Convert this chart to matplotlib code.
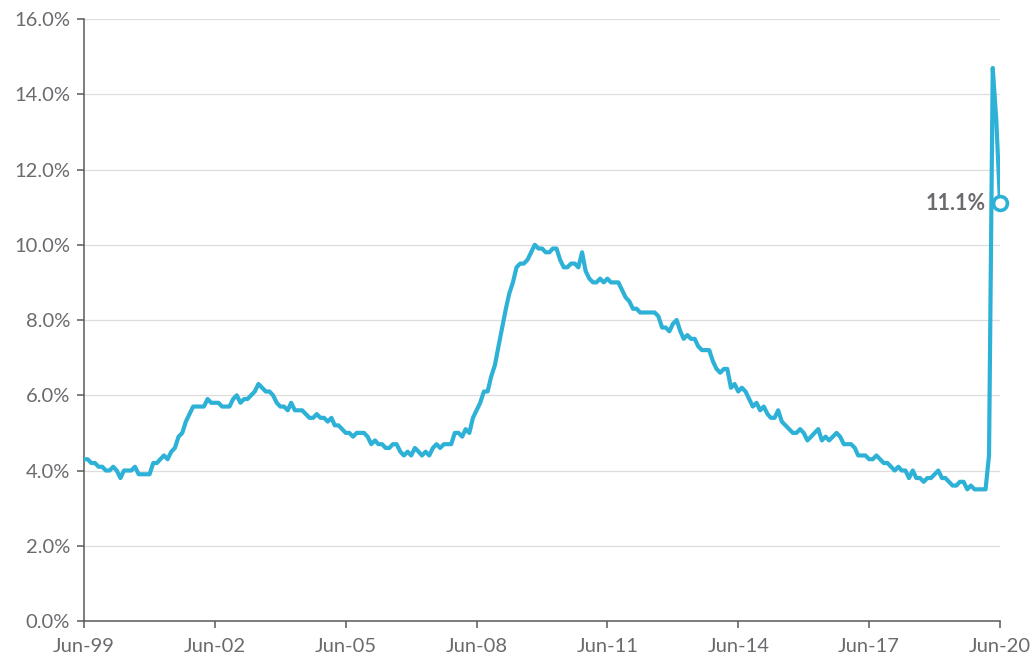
import matplotlib.pyplot as plt
import matplotlib.dates as mdates
import numpy as np
import pandas as pd


# 月度失业率（%），1999年6月 - 2020年6月
rate_1999 = [4.3, 4.3, 4.2, 4.2, 4.1, 4.1, 4.0]
rate_2000 = [4.0, 4.1, 4.0, 3.8, 4.0, 4.0, 4.0, 4.1, 3.9, 3.9, 3.9, 3.9]
rate_2001 = [4.2, 4.2, 4.3, 4.4, 4.3, 4.5, 4.6, 4.9, 5.0, 5.3, 5.5, 5.7]
rate_2002 = [5.7, 5.7, 5.7, 5.9, 5.8, 5.8, 5.8, 5.7, 5.7, 5.7, 5.9, 6.0]
rate_2003 = [5.8, 5.9, 5.9, 6.0, 6.1, 6.3, 6.2, 6.1, 6.1, 6.0, 5.8, 5.7]
rate_2004 = [5.7, 5.6, 5.8, 5.6, 5.6, 5.6, 5.5, 5.4, 5.4, 5.5, 5.4, 5.4]
rate_2005 = [5.3, 5.4, 5.2, 5.2, 5.1, 5.0, 5.0, 4.9, 5.0, 5.0, 5.0, 4.9]
rate_2006 = [4.7, 4.8, 4.7, 4.7, 4.6, 4.6, 4.7, 4.7, 4.5, 4.4, 4.5, 4.4]
rate_2007 = [4.6, 4.5, 4.4, 4.5, 4.4, 4.6, 4.7, 4.6, 4.7, 4.7, 4.7, 5.0]
rate_2008 = [5.0, 4.9, 5.1, 5.0, 5.4, 5.6, 5.8, 6.1, 6.1, 6.5, 6.8, 7.3]
rate_2009 = [7.8, 8.3, 8.7, 9.0, 9.4, 9.5, 9.5, 9.6, 9.8, 10.0, 9.9, 9.9]
rate_2010 = [9.8, 9.8, 9.9, 9.9, 9.6, 9.4, 9.4, 9.5, 9.5, 9.4, 9.8, 9.3]
rate_2011 = [9.1, 9.0, 9.0, 9.1, 9.0, 9.1, 9.0, 9.0, 9.0, 8.8, 8.6, 8.5]
rate_2012 = [8.3, 8.3, 8.2, 8.2, 8.2, 8.2, 8.2, 8.1, 7.8, 7.8, 7.7, 7.9]
rate_2013 = [8.0, 7.7, 7.5, 7.6, 7.5, 7.5, 7.3, 7.2, 7.2, 7.2, 6.9, 6.7]
rate_2014 = [6.6, 6.7, 6.7, 6.2, 6.3, 6.1, 6.2, 6.1, 5.9, 5.7, 5.8, 5.6]
rate_2015 = [5.7, 5.5, 5.4, 5.4, 5.6, 5.3, 5.2, 5.1, 5.0, 5.0, 5.1, 5.0]
rate_2016 = [4.8, 4.9, 5.0, 5.1, 4.8, 4.9, 4.8, 4.9, 5.0, 4.9, 4.7, 4.7]
rate_2017 = [4.7, 4.6, 4.4, 4.4, 4.4, 4.3, 4.3, 4.4, 4.3, 4.2, 4.2, 4.1]
rate_2018 = [4.0, 4.1, 4.0, 4.0, 3.8, 4.0, 3.8, 3.8, 3.7, 3.8, 3.8, 3.9]
rate_2019 = [4.0, 3.8, 3.8, 3.7, 3.6, 3.6, 3.7, 3.7, 3.5, 3.6, 3.5, 3.5]
rate_2020 = [3.5, 3.5, 4.4, 14.7, 13.3, 11.1]

rates = (rate_1999 + rate_2000 + rate_2001 + rate_2002 + rate_2003 + rate_2004
         + rate_2005 + rate_2006 + rate_2007 + rate_2008 + rate_2009 + rate_2010
         + rate_2011 + rate_2012 + rate_2013 + rate_2014 + rate_2015 + rate_2016
         + rate_2017 + rate_2018 + rate_2019 + rate_2020)
dates = pd.date_range("1999-06-01", periods=len(rates), freq="MS")

tick_dates = pd.date_range("1999-06-01", "2020-06-01", freq="36MS")
y_ticks = [0, 2, 4, 6, 8, 10, 12, 14, 16]
last_label = "11.1%"

LINE_COLOR = "#2DB1D6"
TEXT_COLOR = "#6B6B6F"
AXIS_COLOR = "#5A5A5A"

plt.rcParams["font.family"] = ["Lato", "DejaVu Sans"]

fig = plt.figure(figsize=(10.32, 6.58), dpi=100)
ax = fig.add_axes([0.0814, 0.0562, 0.8876, 0.9149])

ax.plot(dates, rates, color=LINE_COLOR, linewidth=3.0, solid_joinstyle="round",
        zorder=3)
ax.plot(dates[-1], rates[-1], marker="o", markersize=10, markerfacecolor="white",
        markeredgecolor=LINE_COLOR, markeredgewidth=2.6, zorder=4, clip_on=False)
ax.annotate(last_label, (dates[-1], rates[-1]), xytext=(-10, 0),
            textcoords="offset points", ha="right", va="center",
            fontsize=15.5, fontweight="bold", color=TEXT_COLOR)

ax.set_xlim(dates[0], dates[-1])
ax.set_ylim(0, 16)
ax.set_yticks(y_ticks)
ax.set_yticklabels([f"{v:.1f}%" for v in y_ticks])
ax.set_xticks(tick_dates)
ax.xaxis.set_major_formatter(mdates.DateFormatter("%b-%y"))

ax.grid(axis="y", color="#DDDDDD", linewidth=0.9)
ax.set_axisbelow(True)
for side in ["top", "right"]:
    ax.spines[side].set_visible(False)
for side in ["left", "bottom"]:
    ax.spines[side].set_color(AXIS_COLOR)
    ax.spines[side].set_linewidth(1.1)

ax.tick_params(axis="both", colors=AXIS_COLOR, labelcolor=TEXT_COLOR,
               labelsize=14.5, length=5, width=1.1)
ax.tick_params(axis="y", pad=5)
ax.tick_params(axis="x", pad=7)

fig.savefig("out.png", dpi=100)
